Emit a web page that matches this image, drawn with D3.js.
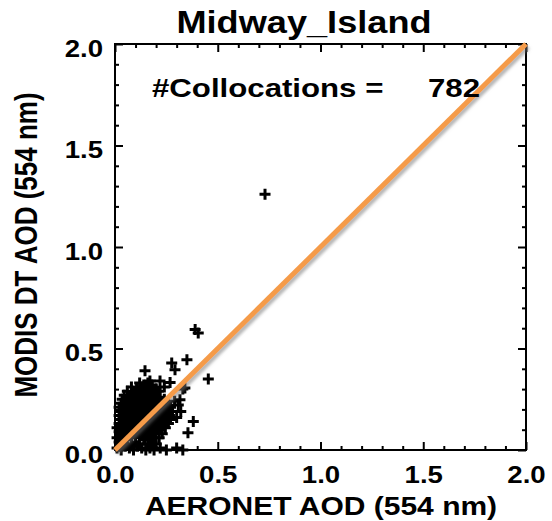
<!DOCTYPE html>
<html>
<head>
<meta charset="utf-8">
<script src="https://cdn.jsdelivr.net/npm/d3@7"></script>
<style>
  html, body { margin: 0; padding: 0; background: #fff; }
  text { font-family: "Liberation Sans", Arial, Helvetica, sans-serif; font-weight: bold; fill: #000; }
</style>
</head>
<body>
<div id="app"></div>
<script>

//
// Data
//

const title = 'Midway_Island'
const xLabel = 'AERONET AOD (554 nm)'
const yLabel = 'MODIS DT AOD (554 nm)'
const nCollocations = 782

const majorTicks = [0, 0.5, 1.0, 1.5, 2.0]
const minorTicks = [0.1, 0.2, 0.3, 0.4, 0.6, 0.7, 0.8, 0.9, 1.1, 1.2, 1.3, 1.4, 1.6, 1.7, 1.8, 1.9]

// AERONET AOD (x) and MODIS DT AOD (y), the dense cluster row by row, then the stragglers
const aeronet = [
  0.01, 0.03, 0.05, 0.07, 0.09, 0.11, 0.13, 0.15, 0.17, 0.19, 0.22, 0.25, 0.30, 0.33,
  0.02, 0.04, 0.06, 0.08, 0.10, 0.12, 0.14, 0.16, 0.18, 0.20,
  0.01, 0.03, 0.05, 0.075, 0.10, 0.12, 0.145, 0.17, 0.19, 0.215,
  0.02, 0.04, 0.065, 0.09, 0.11, 0.13, 0.155, 0.18, 0.20, 0.23,
  0.01, 0.03, 0.055, 0.08, 0.10, 0.125, 0.15, 0.17, 0.195, 0.22, 0.245,
  0.02, 0.045, 0.07, 0.09, 0.115, 0.14, 0.16, 0.185, 0.21, 0.235, 0.26,
  0.03, 0.05, 0.075, 0.10, 0.125, 0.15, 0.175, 0.20, 0.225, 0.25, 0.27,
  0.02, 0.04, 0.065, 0.09, 0.115, 0.14, 0.16, 0.185, 0.21, 0.235, 0.265, 0.30,
  0.03, 0.055, 0.08, 0.105, 0.13, 0.155, 0.18, 0.20, 0.225, 0.25, 0.28,
  0.02, 0.045, 0.07, 0.095, 0.12, 0.145, 0.17, 0.195, 0.22, 0.245, 0.27,
  0.03, 0.06, 0.085, 0.11, 0.135, 0.16, 0.185, 0.21, 0.235, 0.26,
  0.035, 0.06, 0.085, 0.11, 0.135, 0.16, 0.185, 0.21, 0.24,
  0.045, 0.07, 0.095, 0.12, 0.145, 0.17, 0.195, 0.22,
  0.06, 0.085, 0.11, 0.135, 0.16, 0.185, 0.21,
  0.08, 0.105, 0.13, 0.155, 0.18, 0.20,
  0.12, 0.14, 0.16, 0.18,
  0.73, 0.39, 0.405, 0.35, 0.276, 0.292, 0.146, 0.454, 0.219, 0.17,
  0.268, 0.34, 0.316, 0.308, 0.32, 0.29, 0.381, 0.355, 0.24, 0.33
]
const modis = [
  0.01, 0.00, 0.02, 0.01, 0.00, 0.02, 0.01, 0.00, 0.01, 0.00, 0.01, 0.00, 0.01, 0.00,
  0.04, 0.03, 0.05, 0.03, 0.04, 0.03, 0.05, 0.03, 0.04, 0.03,
  0.06, 0.07, 0.06, 0.07, 0.06, 0.07, 0.06, 0.07, 0.06, 0.06,
  0.09, 0.08, 0.09, 0.08, 0.09, 0.08, 0.09, 0.08, 0.09, 0.08,
  0.11, 0.10, 0.11, 0.10, 0.11, 0.10, 0.11, 0.10, 0.11, 0.10, 0.11,
  0.13, 0.12, 0.13, 0.12, 0.13, 0.12, 0.13, 0.12, 0.13, 0.12, 0.13,
  0.15, 0.14, 0.15, 0.14, 0.15, 0.14, 0.15, 0.14, 0.15, 0.14, 0.15,
  0.17, 0.16, 0.17, 0.16, 0.17, 0.16, 0.17, 0.16, 0.17, 0.16, 0.17, 0.16,
  0.19, 0.18, 0.19, 0.18, 0.19, 0.18, 0.19, 0.18, 0.19, 0.18, 0.19,
  0.21, 0.20, 0.21, 0.20, 0.21, 0.20, 0.21, 0.20, 0.21, 0.20, 0.21,
  0.23, 0.22, 0.23, 0.22, 0.23, 0.22, 0.23, 0.22, 0.23, 0.22,
  0.25, 0.24, 0.25, 0.24, 0.25, 0.24, 0.25, 0.24, 0.25,
  0.27, 0.26, 0.27, 0.26, 0.27, 0.26, 0.27, 0.26,
  0.29, 0.28, 0.29, 0.28, 0.29, 0.28, 0.29,
  0.31, 0.30, 0.31, 0.30, 0.31, 0.30,
  0.33, 0.32, 0.33, 0.32,
  1.26, 0.593, 0.576, 0.444, 0.428, 0.395, 0.39, 0.35, 0.34, 0.34,
  0.332, 0.305, 0.247, 0.222, 0.19, 0.24, 0.14, 0.085, 0.31, 0.30
]

//
// Layout
//

const width = 552
const height = 521
const plot = { left: 115, right: 526, top: 44, bottom: 450 }
const stretch = 1.2 // the original picture is wider than tall, text looks stretched
const orange = '#f59b48'

const x = d3.scaleLinear().domain([0, 2]).range([plot.left, plot.right])
const y = d3.scaleLinear().domain([0, 2]).range([plot.bottom, plot.top])

const svg = d3.select('#app').append('svg')
  .attr('width', width)
  .attr('height', height)

const defs = svg.append('defs')
defs.append('filter').attr('id', 'shadow')
  .attr('x', '-10%').attr('y', '-10%').attr('width', '130%').attr('height', '130%')
  .append('feDropShadow')
  .attr('dx', 2).attr('dy', 3).attr('stdDeviation', 1.5)
  .attr('flood-color', '#777').attr('flood-opacity', 0.55)

//
// Axes: ticks on all four sides, pointing inward
//

function ticks(axis, values, size, transform) {
  const g = svg.append('g')
    .attr('transform', transform)
    .call(axis.tickValues(values).tickSize(-size).tickFormat(''))
  g.select('.domain').remove()
  g.selectAll('line').attr('stroke', '#000').attr('stroke-width', 2)
  return g
}

const atBottom = `translate(0,${plot.bottom})`
const atTop = `translate(0,${plot.top})`
const atLeft = `translate(${plot.left},0)`
const atRight = `translate(${plot.right},0)`

ticks(d3.axisBottom(x), minorTicks, 4, atBottom)
ticks(d3.axisTop(x), minorTicks, 4, atTop)
ticks(d3.axisLeft(y), minorTicks, 4, atLeft)
ticks(d3.axisRight(y), minorTicks, 4, atRight)
ticks(d3.axisTop(x), majorTicks, 8, atTop)
ticks(d3.axisRight(y), majorTicks, 8, atRight)

// labelled axes
const xAxis = svg.append('g')
  .attr('transform', atBottom)
  .call(d3.axisBottom(x).tickValues(majorTicks).tickSize(-8).tickPadding(17).tickFormat(d3.format('.1f')))
xAxis.select('.domain').remove()
xAxis.selectAll('line').attr('stroke', '#000').attr('stroke-width', 2)
xAxis.selectAll('text')
  .attr('font-size', 23)
  .attr('transform', `scale(${stretch},1)`)

const yAxis = svg.append('g')
  .attr('transform', atLeft)
  .call(d3.axisLeft(y).tickValues(majorTicks).tickSize(-8).tickPadding(10).tickFormat(d3.format('.1f')))
yAxis.select('.domain').remove()
yAxis.selectAll('line').attr('stroke', '#000').attr('stroke-width', 2)
yAxis.selectAll('text')
  .attr('font-size', 23)
  .attr('transform', `translate(0,5) scale(${stretch},1)`)

// frame
svg.append('rect')
  .attr('x', plot.left).attr('y', plot.top)
  .attr('width', plot.right - plot.left)
  .attr('height', plot.bottom - plot.top)
  .attr('fill', 'none')
  .attr('stroke', '#000')
  .attr('stroke-width', 2)

//
// Points as '+' markers
//

const points = aeronet.map((a, i) => ({ a, m: modis[i] }))
const arm = 5.5

svg.append('g').attr('class', 'points')
  .attr('stroke', '#000')
  .attr('stroke-width', 3)
  .attr('fill', 'none')
  .selectAll('path').data(points)
  .join('path')
  .attr('d', d => {
    const px = x(d.a), py = y(d.m)
    return `M${px - arm},${py}H${px + arm}M${px},${py - arm}V${py + arm}`
  })

// 1:1 line
svg.append('line')
  .attr('x1', x(0)).attr('y1', y(0))
  .attr('x2', x(2)).attr('y2', y(2))
  .attr('stroke', orange)
  .attr('stroke-width', 5)
  .attr('filter', 'url(#shadow)')

//
// Text
//

function label(str, px, py, size, anchor, sx = stretch) {
  return svg.append('text')
    .attr('transform', `translate(${px},${py}) scale(${sx},1)`)
    .attr('font-size', size)
    .attr('text-anchor', anchor)
    .text(str)
}

label(title, 304, 33, 32, 'middle', 1.13)
label('#Collocations =', 152, 97, 26, 'start')
label(String(nCollocations), 428, 97, 26, 'start')
label(xLabel, 321, 515, 25, 'middle')

svg.append('text')
  .attr('transform', `translate(26,245) scale(${stretch},1) rotate(-90)`)
  .attr('font-size', 26)
  .attr('text-anchor', 'middle')
  .attr('dy', '0.36em')
  .text(yLabel)

</script>
</body>
</html>
